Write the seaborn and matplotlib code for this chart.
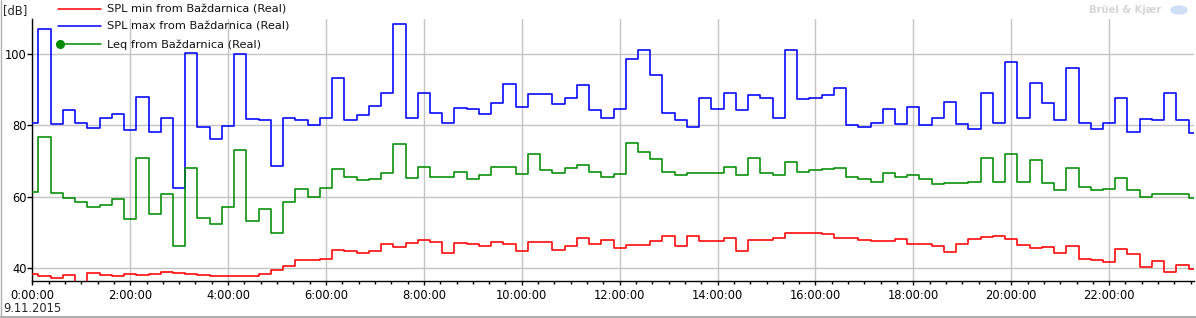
import numpy as np
import pandas as pd
import matplotlib
matplotlib.use("Agg")
import matplotlib.pyplot as plt
from matplotlib.lines import Line2D
from matplotlib.patches import Ellipse
import seaborn as sns

# ---------------- data (15-minute values, 0:00 .. 23:45) ----------------
spl_min = [38.3, 37.8, 37.4, 38.0, 35.0, 38.6, 38.0, 37.8, 38.3, 38.0, 38.4, 38.9,
           38.7, 38.3, 38.0, 37.8, 37.8, 37.8, 37.8, 38.3, 39.4, 40.7, 42.2, 42.2,
           42.5, 45.0, 44.8, 44.2, 44.8, 46.7, 45.9, 47.0, 47.8, 47.3, 44.2, 47.0,
           46.7, 46.2, 47.3, 46.7, 44.8, 47.3, 47.3, 45.0, 46.2, 48.4, 46.7, 47.8,
           45.6, 46.4, 46.4, 47.6, 49.0, 46.2, 49.0, 47.6, 47.6, 48.4, 44.8, 47.8,
           47.8, 48.4, 49.8, 49.8, 49.8, 49.5, 48.4, 48.4, 47.9, 47.6, 47.6, 48.1,
           46.7, 46.7, 46.2, 44.5, 46.7, 48.1, 48.7, 49.0, 48.1, 46.4, 45.6, 45.9,
           44.2, 46.2, 42.5, 42.2, 41.7, 45.3, 43.9, 40.3, 42.0, 38.9, 40.8, 39.7]

spl_max = [80.6, 106.9, 80.3, 84.2, 80.8, 79.2, 82.2, 83.1, 78.6, 88.1, 78.3, 82.2,
           62.6, 100.4, 79.5, 76.2, 79.8, 99.9, 81.8, 81.4, 68.6, 82.0, 81.6, 80.0,
           82.0, 93.4, 81.4, 82.8, 85.4, 89.0, 108.5, 82.0, 89.0, 83.4, 80.8, 85.0,
           84.7, 83.1, 86.4, 91.5, 85.3, 88.7, 88.7, 85.9, 87.8, 91.2, 84.2, 82.2,
           84.5, 98.5, 101.0, 94.0, 83.6, 81.4, 79.7, 87.6, 84.7, 89.0, 84.2, 88.4,
           87.8, 82.0, 101.0, 87.3, 87.8, 88.4, 90.5, 80.0, 79.7, 80.6, 84.7, 80.3,
           85.3, 80.0, 82.2, 86.7, 80.3, 78.9, 89.2, 80.6, 97.9, 82.0, 92.0, 86.4,
           81.4, 96.0, 80.8, 78.9, 80.8, 87.8, 78.3, 81.7, 81.4, 89.0, 81.4, 78.0]

leq = [61.3, 76.7, 61.1, 59.6, 58.5, 57.1, 57.6, 59.3, 53.7, 70.8, 55.2, 60.8,
       46.2, 68.2, 54.0, 52.3, 57.1, 73.0, 53.2, 56.5, 49.9, 58.7, 62.1, 59.9,
       62.4, 67.7, 65.5, 64.6, 64.9, 66.6, 74.7, 65.2, 68.5, 65.7, 65.5, 66.9,
       64.9, 66.0, 68.3, 68.3, 66.3, 71.9, 67.4, 66.6, 68.0, 68.8, 66.9, 65.7,
       66.3, 75.0, 72.7, 70.5, 66.9, 66.0, 66.6, 66.6, 66.6, 68.5, 66.0, 70.8,
       66.6, 66.0, 69.9, 66.9, 67.4, 67.7, 68.0, 65.5, 64.9, 64.3, 66.6, 65.5,
       66.0, 64.9, 63.5, 63.8, 63.8, 64.1, 70.8, 64.1, 71.9, 64.3, 70.2, 63.8,
       61.8, 68.2, 62.9, 61.8, 62.1, 65.2, 61.8, 60.1, 60.7, 60.7, 60.9, 59.6]

series_names = ["SPL min from Baždarnica (Real)",
                "SPL max from Baždarnica (Real)",
                "Leq from Baždarnica (Real)"]
series_colors = ["#ff0000", "#0000ff", "#008c00"]

xtick_hours = [0, 2, 4, 6, 8, 10, 12, 14, 16, 18, 20, 22]
xtick_labels = ["0:00:00", "2:00:00", "4:00:00", "6:00:00", "8:00:00", "10:00:00",
                "12:00:00", "14:00:00", "16:00:00", "18:00:00", "20:00:00", "22:00:00"]
ytick_values = [40, 60, 80, 100]
ytick_labels = ["40", "60", "80", "100"]
date_label = "9.11.2015"
unit_label = "[dB]"
brand_label = "Brüel & Kjær"

hours = np.arange(len(spl_max)) * 0.25
df = pd.concat([
    pd.DataFrame({"hours": hours, "value": vals, "series": name})
    for name, vals in zip(series_names, [spl_min, spl_max, leq])
], ignore_index=True)

# ---------------- figure ----------------
sns.set_style("white")
plt.rcParams["font.family"] = ["DejaVu Sans"]
W, H = 1196, 318
fig = plt.figure(figsize=(W / 100, H / 100), dpi=100)
fig.patch.set_facecolor("white")

ax_left, ax_right, ax_top, ax_bottom = 32.3, 1194.3, 19.0, 281.0
ax = fig.add_axes([ax_left / W, 1 - ax_bottom / H,
                   (ax_right - ax_left) / W, (ax_bottom - ax_top) / H])
ax.set_facecolor("white")

sns.lineplot(data=df, x="hours", y="value", hue="series",
             palette=dict(zip(series_names, series_colors)),
             hue_order=series_names, estimator=None, drawstyle="steps-mid",
             linewidth=1.15, legend=False, ax=ax, zorder=3)

ax.set_xlim(0, 23.74)
ax.set_ylim(36.45, 109.8)
ax.set_xlabel("")
ax.set_ylabel("")

ax.set_xticks(xtick_hours)
ax.set_xticklabels(xtick_labels)
minor = [m / 3 for m in range(0, 72) if m % 6 != 0]
ax.set_xticks(minor, minor=True)
ax.set_yticks(ytick_values)
ax.set_yticklabels(ytick_labels)

ax.grid(True, which="major", color="#c4c4c4", linewidth=1.0, zorder=0)
for s in ["top", "right"]:
    ax.spines[s].set_visible(False)
for s in ["left", "bottom"]:
    ax.spines[s].set_color("black")
    ax.spines[s].set_linewidth(1.0)

ax.tick_params(axis="x", which="major", direction="out", length=3.2, width=1,
               color="black", labelsize=8.3, pad=2.5, labelcolor="black")
ax.tick_params(axis="x", which="minor", direction="out", length=2.0, width=1,
               color="black")
ax.tick_params(axis="y", which="major", direction="out", length=3.6, width=1,
               color="black", labelsize=8.3, pad=0.5, labelcolor="black")
ax.tick_params(axis="both", bottom=True, left=True, which="both")


def fx(px):
    return px / W


def fy(py):
    return 1 - py / H


# unit label and date
fig.text(fx(3), fy(11), unit_label, fontsize=8.3, va="center", ha="left")
fig.text(fx(3), fy(309), date_label, fontsize=8.3, va="center", ha="left")

# legend (drawn manually to mimic the reference layout)
leg_rows = [9.3, 26.0, 44.0]
for name, col, yy in zip(series_names, series_colors, leg_rows):
    fig.add_artist(Line2D([fx(58), fx(101)], [fy(yy), fy(yy)], color=col,
                          linewidth=1.1, transform=fig.transFigure))
    fig.text(fx(107), fy(yy + 0.5), name, fontsize=8.2, va="center", ha="left",
             color="#111111")
fig.add_artist(Line2D([fx(59.5)], [fy(44.0)], color=series_colors[2], marker="o",
                      markersize=5.5, linestyle="none", transform=fig.transFigure))

# brand watermark
fig.text(fx(1089), fy(10), brand_label, fontsize=7.2, fontweight="bold",
         color="#d6d6d6", va="center", ha="left")
fig.add_artist(Ellipse((fx(1179), fy(10)), width=fx(16), height=8 / H,
                       color="#cfe0f6", transform=fig.transFigure))

# frame lines of the screenshot
fig.add_artist(Line2D([fx(0.5), fx(0.5)], [fy(0), fy(318)], color="#b0b0b0",
                      linewidth=1.0, transform=fig.transFigure))
fig.add_artist(Line2D([fx(0), fx(1196)], [fy(316.5), fy(316.5)], color="#b0b0b0",
                      linewidth=1.5, transform=fig.transFigure))

fig.savefig("out.png", dpi=100, facecolor="white")
